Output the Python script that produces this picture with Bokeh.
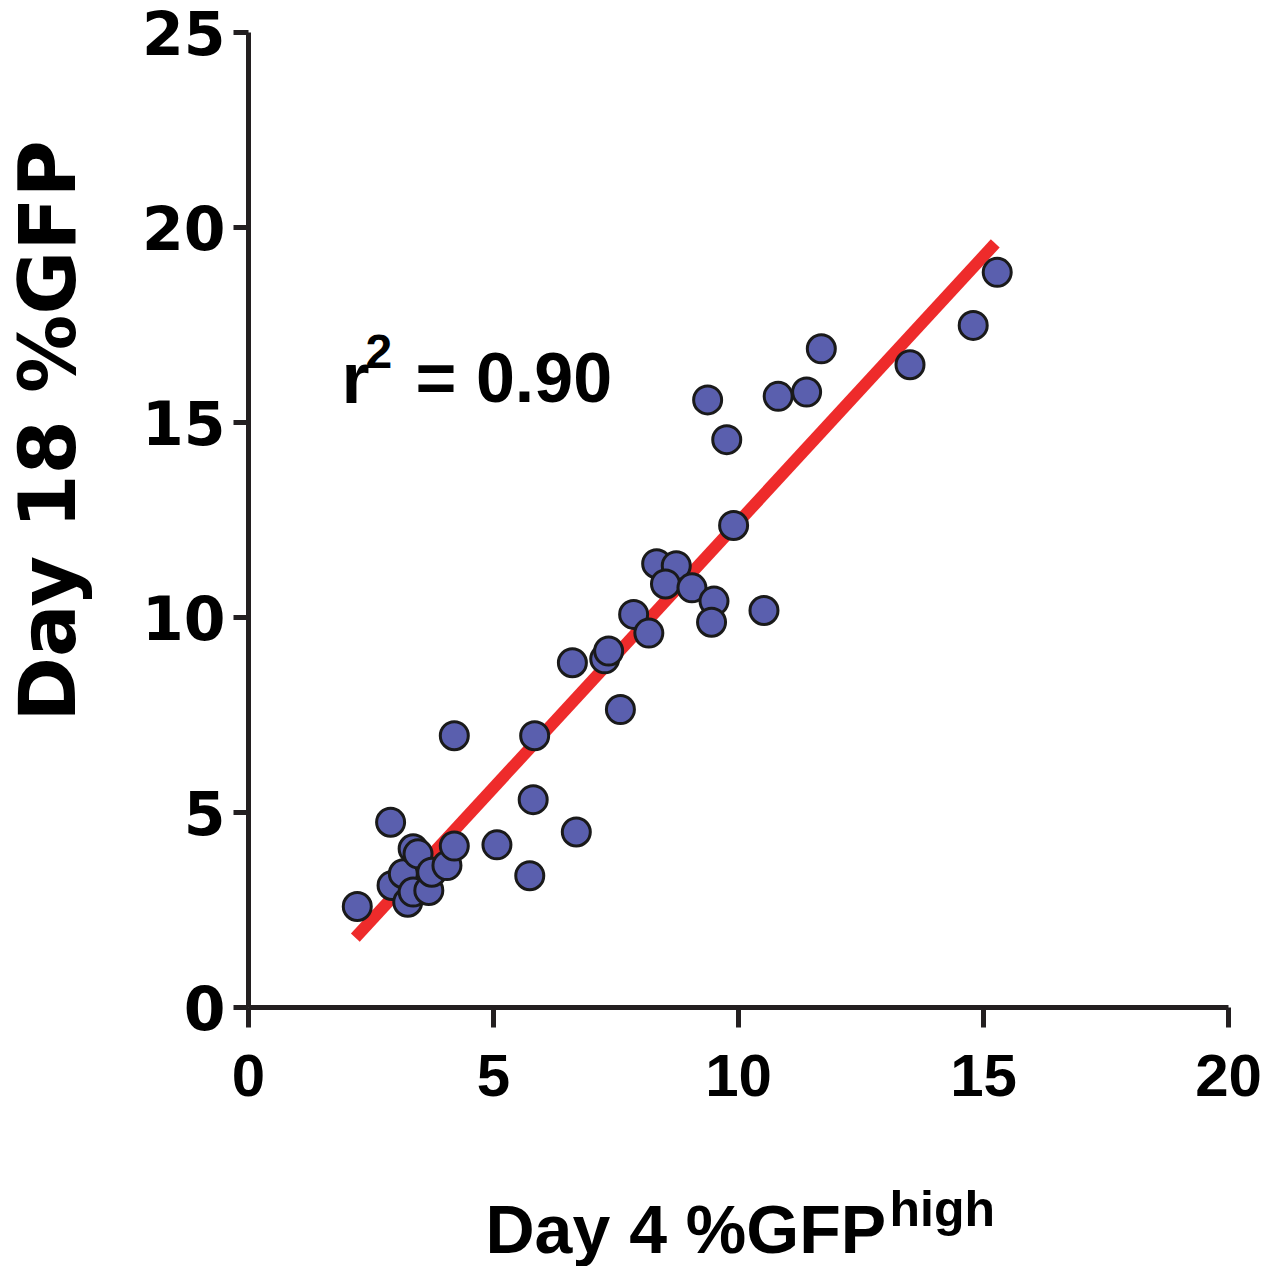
import numpy as np
from bokeh.plotting import figure
from bokeh.models import Range1d, Label, FixedTicker
from bokeh.layouts import row, column
from bokeh.embed import file_html
from bokeh.resources import INLINE

# Day 4 %GFP-high (x) vs Day 18 %GFP (y)
day4 = [2.22, 2.90, 2.93, 3.16, 3.25, 3.36, 3.36, 3.46, 3.68, 3.74, 4.05, 4.20,
        4.20, 5.07, 5.74, 5.81, 5.84, 6.69,
        6.61, 7.27, 7.35, 7.59, 7.86, 8.17, 8.33, 8.73, 8.51, 9.05, 9.50, 9.45, 10.52, 9.90,
        9.37, 9.76, 10.81, 11.39, 11.69, 13.50, 14.79, 15.28]
day18 = [2.59, 4.75, 3.13, 3.43, 2.70, 4.07, 2.96, 3.94, 3.00, 3.47, 3.64, 4.14,
         6.97, 4.17, 3.38, 5.33, 6.97, 4.50,
         8.84, 8.94, 9.14, 7.64, 10.08, 9.60, 11.38, 11.33, 10.86, 10.76, 10.42, 9.88, 10.18, 12.36,
         15.58, 14.56, 15.67, 15.78, 16.89, 16.48, 17.49, 18.85]

fit_slope = 1.363
fit_intercept = -1.18
fit_x = [2.18, 15.24]
fit_y = [fit_slope * v + fit_intercept for v in fit_x]

x_ticks = [0, 5, 10, 15, 20]
y_ticks = [0, 5, 10, 15, 20, 25]

INK = "#231F20"


def blank(w, h):
    f = figure(width=w, height=h, output_backend="svg", toolbar_location=None,
               x_range=Range1d(0, w), y_range=Range1d(0, h),
               x_axis_type=None, y_axis_type=None,
               min_border=0)
    f.outline_line_color = None
    f.xgrid.visible = False
    f.ygrid.visible = False
    return f


# main chart
p = figure(width=1170, height=1118, output_backend="svg", toolbar_location=None,
           x_range=Range1d(0, 20), y_range=Range1d(0, 25),
           min_border_left=138, min_border_right=52, min_border_top=32, min_border_bottom=111)
p.outline_line_color = None
p.xgrid.visible = False
p.ygrid.visible = False

p.line(fit_x, fit_y, line_color="#EE2B2B", line_width=12)
p.scatter(day4, day18, size=28, fill_color="#5A5FAE", line_color="#1A1A1A", line_width=3)

for ax in (p.xaxis[0], p.yaxis[0]):
    ax.axis_line_width = 5
    ax.axis_line_color = INK
    ax.major_tick_line_width = 5
    ax.major_tick_line_color = INK
    ax.major_tick_in = 0
    ax.minor_tick_line_color = None
    ax.major_label_text_color = "black"
    ax.major_label_text_font_style = "bold"

p.xaxis[0].ticker = FixedTicker(ticks=x_ticks)
p.yaxis[0].ticker = FixedTicker(ticks=y_ticks)
p.xaxis[0].major_tick_out = 20
p.yaxis[0].major_tick_out = 15
p.xaxis[0].major_label_standoff = 27
p.yaxis[0].major_label_standoff = 8
p.xaxis[0].major_label_text_font = "Liberation Sans"
p.xaxis[0].major_label_text_font_size = "60px"
p.yaxis[0].major_label_text_font = "DejaVu Sans"
p.yaxis[0].major_label_text_font_size = "60px"

# r^2 annotation
p.add_layout(Label(x=1.90, y=16.15, text="r", text_font="Liberation Sans",
                   text_font_style="bold", text_font_size="72px", text_color="black",
                   text_baseline="alphabetic", text_align="left"))
p.add_layout(Label(x=2.39, y=16.82, text="2", text_font="Liberation Sans",
                   text_font_style="bold", text_font_size="48px", text_color="black",
                   text_baseline="alphabetic", text_align="left"))
p.add_layout(Label(x=3.41, y=16.15, text="= 0.90", text_font="Liberation Sans",
                   text_font_style="bold", text_font_size="70px", text_color="black",
                   text_baseline="alphabetic", text_align="left"))

# y axis title panel
pl = blank(110, 1118)
pl.add_layout(Label(x=47, y=661, text="Day 18 %GFP", angle=np.pi / 2,
                    text_font="DejaVu Sans", text_font_style="bold", text_font_size="78px",
                    text_color="black", text_align="center", text_baseline="alphabetic"))

# x axis title panel
pb = blank(1280, 148)
pb.add_layout(Label(x=485, y=38, text="Day 4 %GFP", text_font="Liberation Sans",
                    text_font_style="bold", text_font_size="68px", text_color="black",
                    text_baseline="alphabetic", text_align="left"))
pb.add_layout(Label(x=889, y=58, text="high", text_font="Liberation Sans",
                    text_font_style="bold", text_font_size="50px", text_color="black",
                    text_baseline="alphabetic", text_align="left"))

layout = column(row(pl, p), pb)
open("out.html", "w").write(file_html(layout, INLINE))
